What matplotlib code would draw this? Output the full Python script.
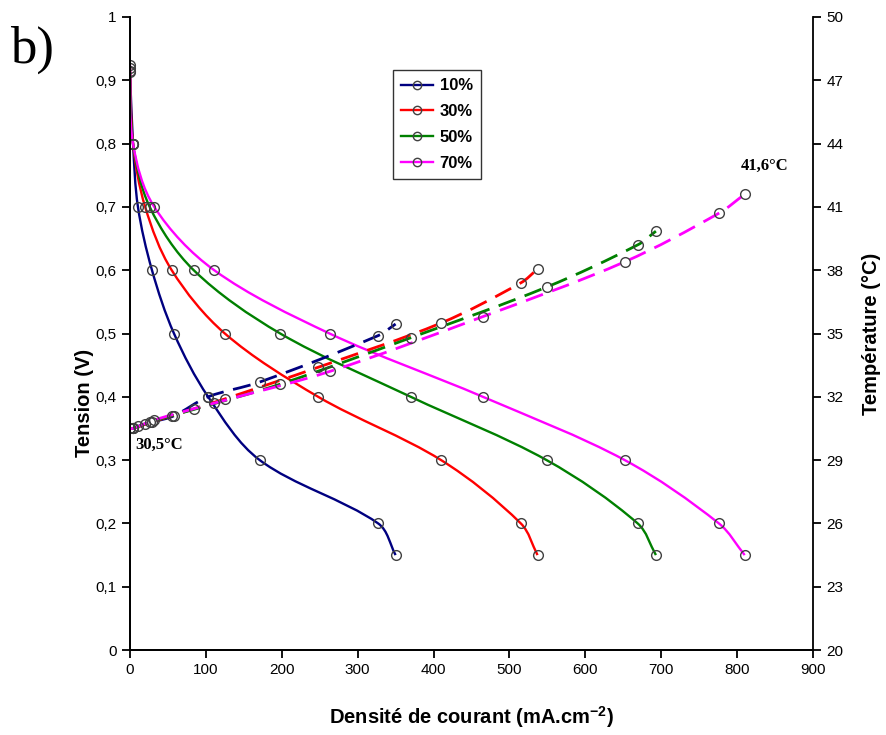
import matplotlib.pyplot as plt
import numpy as np
from matplotlib.path import Path
from matplotlib.patches import PathPatch
from matplotlib.lines import Line2D
from matplotlib.ticker import FuncFormatter

labels = ["10%", "30%", "50%", "70%"]
colors = ["#000080", "#FF0000", "#008000", "#FF00FF"]

# current density (mA/cm2) at the marked points
j_10 = [0, 4, 10.5, 29, 58, 103, 171, 327, 350]
j_30 = [0, 4, 20, 55, 125, 248, 410, 515, 537]
j_50 = [0, 4, 26, 84, 198, 370, 549, 669, 693]
j_70 = [0, 4, 32, 111, 263, 465, 652, 776, 810]

# cell voltage (V)
v_10 = [0.915, 0.80, 0.70, 0.60, 0.50, 0.40, 0.30, 0.20, 0.15]
v_30 = [0.920, 0.80, 0.70, 0.60, 0.50, 0.40, 0.30, 0.20, 0.15]
v_50 = [0.913, 0.80, 0.70, 0.60, 0.50, 0.40, 0.30, 0.20, 0.15]
v_70 = [0.924, 0.80, 0.70, 0.60, 0.50, 0.40, 0.30, 0.20, 0.15]

# temperature (deg C)
t_10 = [30.5, 30.5, 30.6, 30.8, 31.1, 32.0, 32.7, 34.9, 35.45]
t_30 = [30.5, 30.5, 30.7, 31.1, 31.9, 33.4, 35.5, 37.4, 38.05]
t_50 = [30.5, 30.5, 30.8, 31.4, 32.6, 34.8, 37.2, 39.2, 39.85]
t_70 = [30.5, 30.5, 30.9, 31.7, 33.2, 35.8, 38.4, 40.7, 41.6]

currents = [j_10, j_30, j_50, j_70]
voltages = [v_10, v_30, v_50, v_70]
temps = [t_10, t_30, t_50, t_70]


def smooth_path(x, y, sx, sy):
    # smoothed line through the points (bezier handles weighted by segment length)
    p = np.column_stack([np.asarray(x, float) / sx, np.asarray(y, float) / sy])
    n = len(p)
    d = np.r_[0, np.hypot(*np.diff(p, axis=0).T), 0]
    verts = [p[0]]
    codes = [Path.MOVETO]
    for i in range(n - 1):
        p0 = p[i - 1] if i > 0 else p[i]
        p1, p2 = p[i], p[i + 1]
        p3 = p[i + 2] if i + 2 < n else p[i + 1]
        d01, d12, d23 = d[i], d[i + 1], d[i + 2]
        c1 = p1 + (p2 - p0) * d12 / (d01 + d12) / 3
        c2 = p2 - (p3 - p1) * d12 / (d12 + d23) / 3
        verts += [c1, c2, p2]
        codes += [Path.CURVE4] * 3
    verts = np.array(verts) * [sx, sy]
    return Path(verts, codes)


plt.rcParams['font.family'] = ['Liberation Sans', 'DejaVu Sans']
plt.rcParams['mathtext.fontset'] = 'custom'
plt.rcParams['mathtext.bf'] = 'Liberation Sans:bold'
plt.rcParams['mathtext.rm'] = 'Liberation Sans'

fig = plt.figure(figsize=(8.86, 7.35), dpi=100)
ax = fig.add_axes([0.1467, 0.1156, 0.7709, 0.8613])
ax2 = ax.twinx()

mk = dict(linestyle='none', marker='o', mfc='none', mec='#404040', ms=7, mew=1)

for j, v, c in zip(currents, voltages, colors):
    ax.add_patch(PathPatch(smooth_path(j, v, 900, 1), fc='none', ec=c, lw=1.7))
    ax.plot(j, v, **mk)

for j, t, c in zip(currents, temps, colors):
    ax2.add_patch(PathPatch(smooth_path(j, t, 900, 30), fc='none', ec=c, lw=2,
                            linestyle=(0, (6.5, 3.5))))
    ax2.plot(j, t, **mk)

ax.set_xlim(0, 900)
ax.set_ylim(0, 1)
ax2.set_ylim(20, 50)
ax.set_xticks(np.arange(0, 901, 100))
ax.set_yticks(np.arange(0, 1.01, 0.1))
ax2.set_yticks(np.arange(20, 51, 3))

comma = FuncFormatter(lambda val, pos: ('%g' % round(val, 2)).replace('.', ','))
ax.yaxis.set_major_formatter(comma)

for a in (ax, ax2):
    a.spines['top'].set_visible(False)
    for s in a.spines.values():
        s.set_linewidth(1.3)
    a.tick_params(direction='out', length=6, width=1.3, labelsize=11)
ax.spines['right'].set_visible(False)

ax.set_xlabel("Densité de courant (mA.cm$^{\\mathbf{-2}}$)", fontsize=14.5, fontweight='bold')
ax.xaxis.set_label_coords(0.5, -0.085)
ax.set_ylabel("Tension (V)", fontsize=14.5, fontweight='bold')
ax.yaxis.set_label_coords(-0.053, 0.39)
ax2.set_ylabel("Température (°C)", fontsize=14.5, fontweight='bold')
ax2.yaxis.set_label_coords(1.072, 0.5)

ax2.text(805, 42.75, "41,6°C", family='Liberation Serif', fontweight='bold', fontsize=12)
ax2.text(6.5, 29.55, "30,5°C", family='Liberation Serif', fontweight='bold', fontsize=12)
fig.text(0.011, 0.915, "b)", family='Liberation Serif', fontsize=38)

handles = [Line2D([], [], color=c, lw=1.7, marker='o', mfc='none', mec='#404040', ms=6)
           for c in colors]
leg = ax.legend(handles, labels, loc='upper left', bbox_to_anchor=(0.385, 0.916),
                borderaxespad=0, frameon=True, fancybox=False, edgecolor='black',
                handlelength=1.9, handletextpad=0.4, borderpad=0.5, labelspacing=0.65,
                prop={'weight': 'bold', 'size': 12})
leg.get_frame().set_linewidth(1)

plt.savefig("out.png", dpi=100)
